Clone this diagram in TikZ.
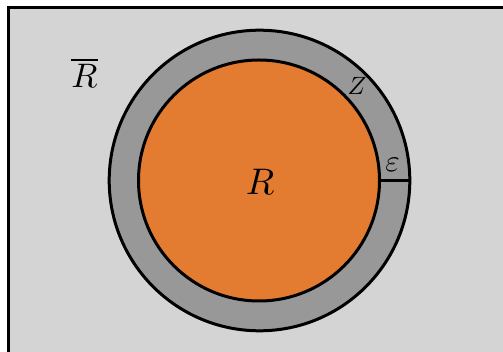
\documentclass[tikz,border=0pt]{standalone}
\usepackage{amsmath}
\definecolor{bggray}{RGB}{212,212,212}
\definecolor{ringgray}{RGB}{152,152,152}
\definecolor{coreorange}{RGB}{227,123,48}
\begin{document}
\begin{tikzpicture}[x=1pt,y=-1pt,
  disc/.style={circle,draw=black,line width=3pt,inner sep=0pt,outer sep=0pt},
  lbl/.style={inner sep=0pt,outer sep=0pt,text=black}]
\useasboundingbox (0,0) rectangle (503,352);
\fill[white] (0,0) rectangle (503,352);
\begin{scope}
\clip (0,0) rectangle (503,352);
\draw[fill=bggray,line width=3pt] (8.5,7.5) rectangle (530,370);
\end{scope}
\node[disc,fill=ringgray,minimum size=300.6pt] (outer) at (259.5,180.5) {};
\node[disc,fill=coreorange,minimum size=241pt] (inner) at (259,180.5) {};
\draw[line width=3pt] (inner.east) -- (outer.east);
\node[lbl,anchor=base,scale=3.7] (r) at (260,195) {$R$};
\node[lbl,anchor=base,scale=3.4] (rbar) at (84.5,88) {$\overline{R}$};
\node[lbl,anchor=base,scale=2.5] (z) at (357,95) {$Z$};
\node[lbl,anchor=base,scale=3.1] (eps) at (392.5,172) {$\varepsilon$};
\end{tikzpicture}
\end{document}
